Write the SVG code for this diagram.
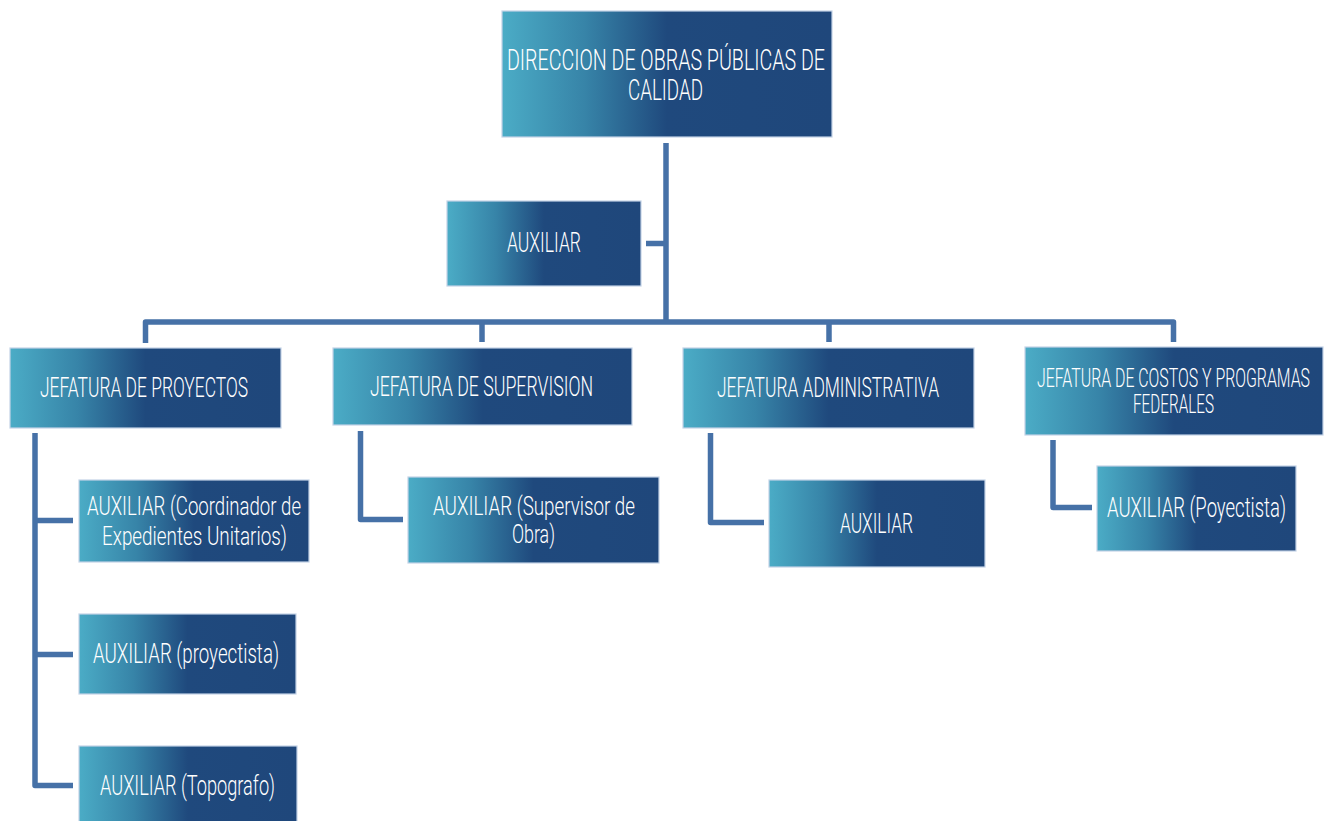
<svg xmlns="http://www.w3.org/2000/svg" width="1326" height="821" viewBox="0 0 1326 821">
  <defs>
    <linearGradient id="boxFill" x1="0" y1="0" x2="1" y2="0">
      <stop offset="0" stop-color="#4BACC6"/>
      <stop offset="0.25" stop-color="#3784A8"/>
      <stop offset="0.5" stop-color="#1F497D"/>
      <stop offset="1" stop-color="#1F477B"/>
    </linearGradient>
    <style>
      .box { fill: url(#boxFill); stroke: #C3D3E6; stroke-width: 1.2; }
      .lbl { font-family: Roboto, "Liberation Sans", sans-serif; font-weight: 300; fill: #FFFFFF; font-size: 27px; }
      .sm { font-size: 25px; }
      .lg { font-size: 30px; }
      .wire { fill: none; stroke: #4671A7; stroke-width: 5.5; stroke-linejoin: round; stroke-linecap: butt; }
    </style>
  </defs>
  <rect width="1326" height="821" fill="#FFFFFF"/>

  <g id="connectors">
    <path class="wire" d="M666 143 V322"/>
    <path class="wire" d="M646 243.5 H666"/>
    <path class="wire" d="M145.5 343 V322 H1173.5 V342"/>
    <path class="wire" d="M482 322 V342"/>
    <path class="wire" d="M829 322 V342"/>
    <path class="wire" d="M35 433 V785.5 H73"/>
    <path class="wire" d="M35 520.5 H73"/>
    <path class="wire" d="M35 654.5 H73"/>
    <path class="wire" d="M360.5 431 V519.5 H403"/>
    <path class="wire" d="M710.5 433 V522.5 H764"/>
    <path class="wire" d="M1053 440 V507.5 H1092"/>
  </g>

  <g id="direccion">
    <rect class="box" x="502" y="11" width="330" height="126"/>
    <text class="lbl lg" x="507" y="70" textLength="318" lengthAdjust="spacingAndGlyphs">DIRECCION DE OBRAS PÚBLICAS DE</text>
    <text class="lbl lg" x="628" y="100" textLength="75" lengthAdjust="spacingAndGlyphs">CALIDAD</text>
  </g>

  <g id="auxiliar-direccion">
    <rect class="box" x="447" y="201" width="194" height="85"/>
    <text class="lbl" x="507" y="252" textLength="74" lengthAdjust="spacingAndGlyphs">AUXILIAR</text>
  </g>

  <g id="jefatura-proyectos">
    <rect class="box" x="10" y="348" width="271" height="80"/>
    <text class="lbl" x="40" y="397" textLength="208" lengthAdjust="spacingAndGlyphs">JEFATURA DE PROYECTOS</text>
  </g>

  <g id="jefatura-supervision">
    <rect class="box" x="333" y="348" width="299" height="77"/>
    <text class="lbl" x="370" y="396" textLength="223" lengthAdjust="spacingAndGlyphs">JEFATURA DE SUPERVISION</text>
  </g>

  <g id="jefatura-administrativa">
    <rect class="box" x="683" y="348" width="291" height="80"/>
    <text class="lbl" x="717" y="397" textLength="222" lengthAdjust="spacingAndGlyphs">JEFATURA ADMINISTRATIVA</text>
  </g>

  <g id="jefatura-costos">
    <rect class="box" x="1025" y="347" width="298" height="88"/>
    <text class="lbl sm" x="1037" y="387" textLength="273" lengthAdjust="spacingAndGlyphs">JEFATURA DE COSTOS Y PROGRAMAS</text>
    <text class="lbl sm" x="1133" y="413" textLength="81" lengthAdjust="spacingAndGlyphs">FEDERALES</text>
  </g>

  <g id="auxiliar-coordinador">
    <rect class="box" x="79" y="480" width="230" height="82"/>
    <text class="lbl sm" x="87" y="515" textLength="214" lengthAdjust="spacingAndGlyphs">AUXILIAR (Coordinador de</text>
    <text class="lbl sm" x="102" y="545" textLength="185" lengthAdjust="spacingAndGlyphs">Expedientes Unitarios)</text>
  </g>

  <g id="auxiliar-proyectista">
    <rect class="box" x="79" y="614" width="217" height="80"/>
    <text class="lbl" x="93" y="663" textLength="186" lengthAdjust="spacingAndGlyphs">AUXILIAR (proyectista)</text>
  </g>

  <g id="auxiliar-topografo">
    <rect class="box" x="79" y="746" width="218" height="80"/>
    <text class="lbl" x="100" y="795" textLength="175" lengthAdjust="spacingAndGlyphs">AUXILIAR (Topografo)</text>
  </g>

  <g id="auxiliar-supervisor">
    <rect class="box" x="408" y="477" width="251" height="86"/>
    <text class="lbl sm" x="433" y="515" textLength="202" lengthAdjust="spacingAndGlyphs">AUXILIAR (Supervisor de</text>
    <text class="lbl sm" x="512" y="543" textLength="43" lengthAdjust="spacingAndGlyphs">Obra)</text>
  </g>

  <g id="auxiliar-administrativa">
    <rect class="box" x="769" y="480" width="216" height="87"/>
    <text class="lbl" x="840" y="533" textLength="73" lengthAdjust="spacingAndGlyphs">AUXILIAR</text>
  </g>

  <g id="auxiliar-costos">
    <rect class="box" x="1097" y="466" width="199" height="85"/>
    <text class="lbl" x="1107" y="517" textLength="179" lengthAdjust="spacingAndGlyphs">AUXILIAR (Poyectista)</text>
  </g>
</svg>
